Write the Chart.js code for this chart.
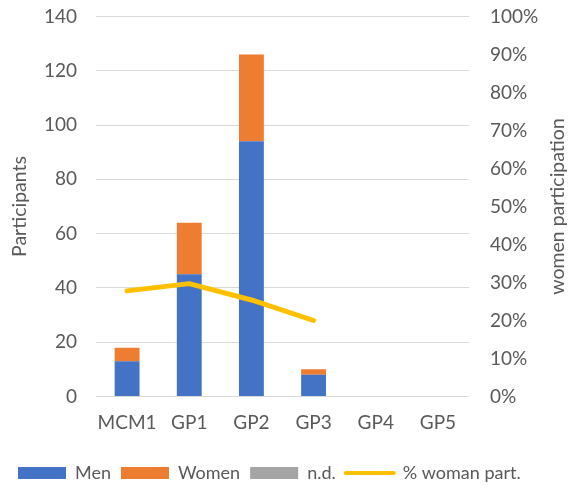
<!DOCTYPE html>
<html>
<head>
<meta charset="utf-8">
<script src="https://cdn.jsdelivr.net/npm/chart.js@4/dist/chart.umd.min.js"></script>
<style>
html,body{margin:0;padding:0;background:#fff;}
#wrap{width:569px;height:487px;position:relative;}
</style>
</head>
<body>
<div id="wrap"><canvas id="c" width="569" height="487"></canvas></div>
<script>
const categories = ['MCM1', 'GP1', 'GP2', 'GP3', 'GP4', 'GP5'];
const men = [13, 45, 94, 8, null, null];
const women = [5, 19, 32, 2, null, null];
const nd = [0, 0, 0, 0, null, null];
const womenPct = [0.278, 0.297, 0.254, 0.20, null, null];
const leftTicks = [0, 20, 40, 60, 80, 100, 120, 140];
const rightTitle = 'women participation';

const FONT = 'Lato';
const TXT = '#595959';

const rightTitlePlugin = {
  id: 'rightTitle',
  afterDraw(chart) {
    const ctx = chart.ctx;
    const ca = chart.chartArea;
    ctx.save();
    ctx.translate(558, (ca.top + ca.bottom) / 2);
    ctx.rotate(-Math.PI / 2);
    ctx.fillStyle = TXT;
    ctx.font = '19.5px ' + FONT;
    ctx.textAlign = 'center';
    ctx.textBaseline = 'middle';
    ctx.fillText(rightTitle, 0, 0);
    ctx.restore();
  }
};

const legendShift = {
  id: 'legendShift',
  afterLayout(chart) {
    const lg = chart.legend;
    if (!lg) return;
    const dx = 8, dy = -3;
    lg.left += dx; lg.right += dx;
    lg.top += dy; lg.bottom += dy;
  }
};

new Chart(document.getElementById('c'), {
  data: {
    labels: categories,
    datasets: [
      {type: 'bar', label: 'Men', data: men, backgroundColor: '#4472C4', yAxisID: 'y', stack: 's', order: 1, barPercentage: 0.5, categoryPercentage: 0.8},
      {type: 'bar', label: 'Women', data: women, backgroundColor: '#ED7D31', yAxisID: 'y', stack: 's', order: 1, barPercentage: 0.5, categoryPercentage: 0.8},
      {type: 'bar', label: 'n.d.', data: nd, backgroundColor: '#A5A5A5', yAxisID: 'y', stack: 's', order: 1, barPercentage: 0.5, categoryPercentage: 0.8},
      {type: 'line', label: '% woman part.', data: womenPct, borderColor: '#FFC000', backgroundColor: '#FFC000', borderWidth: 5, borderCapStyle: 'round', borderJoinStyle: 'round', pointRadius: 0, yAxisID: 'y1', order: 0, spanGaps: false, tension: 0}
    ]
  },
  options: {
    responsive: false,
    animation: false,
    layout: {padding: {top: 16.5, left: 0, right: 0, bottom: 0}},
    plugins: {
      tooltip: {enabled: false},
      legend: {
        position: 'bottom',
        align: 'start',
        maxHeight: 30,
        labels: {
          usePointStyle: true,
          pointStyleWidth: 48,
          boxWidth: 48,
          boxHeight: 12,
          padding: 10,
          color: TXT,
          font: {family: FONT, size: 18},
          generateLabels(chart) {
            return chart.data.datasets.map((ds, i) => {
              const isLine = ds.type === 'line';
              return {
                text: ds.label,
                fillStyle: isLine ? ds.borderColor : ds.backgroundColor,
                strokeStyle: isLine ? ds.borderColor : ds.backgroundColor,
                lineWidth: isLine ? 4 : 0,
                lineCap: 'round',
                pointStyle: isLine ? 'line' : 'rect',
                hidden: false,
                datasetIndex: i,
                fontColor: TXT
              };
            });
          }
        }
      }
    },
    scales: {
      x: {
        stacked: true,
        grid: {display: false, drawTicks: false},
        border: {display: false},
        ticks: {color: TXT, font: {family: FONT, size: 19}, padding: 15, maxRotation: 0},
        afterFit(s) { s.height = 60.5; }
      },
      y: {
        position: 'left',
        stacked: true,
        min: 0, max: 140,
        afterBuildTicks(s) { s.ticks = leftTicks.map(v => ({value: v})); },
        grid: {color: '#D9D9D9', lineWidth: 1, drawTicks: true, tickLength: 19, tickColor: 'rgba(0,0,0,0)'},
        border: {display: false},
        ticks: {color: TXT, font: {family: FONT, size: 19}, padding: 0},
        title: {display: true, text: 'Participants', color: TXT, font: {family: FONT, size: 19.5}, padding: {top: 8, bottom: 0}},
        afterFit(s) { s.width = 96; }
      },
      y1: {
        position: 'right',
        min: 0, max: 1,
        grid: {display: false, drawTicks: true, tickLength: 21},
        border: {display: false},
        ticks: {stepSize: 0.1, color: TXT, font: {family: FONT, size: 19}, padding: 0,
          callback: v => Math.round(v * 100) + '%'},
        afterFit(s) { s.width = 100; }
      }
    }
  },
  plugins: [rightTitlePlugin, legendShift]
});
</script>
</body>
</html>
